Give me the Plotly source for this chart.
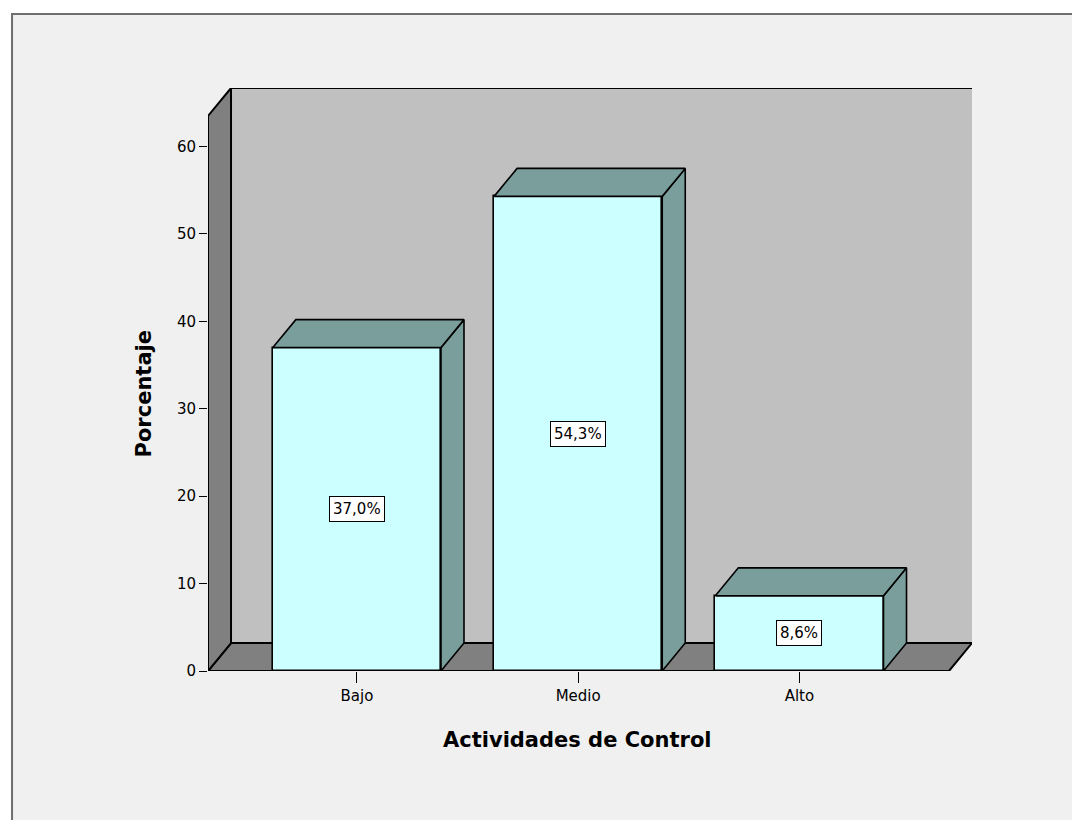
import plotly.graph_objects as go

# Data
categories = ["Bajo", "Medio", "Alto"]
percentages = [37.0, 54.3, 8.6]
value_labels = ["37,0%", "54,3%", "8,6%"]
y_ticks = [0, 10, 20, 30, 40, 50, 60]

# Geometry of the pseudo-3D frame (data units)
BAR_W = 0.76
DX, DY = 0.104, 3.2          # depth offset of the back plane
X_LO, X_HI = -0.673, 2.676   # front floor edge
Y_WALL = 63.5                # front top of the left side wall

FRONT = "#ccffff"
SHADE = "#7a9e9c"
WALL = "#c0c0c0"
DARK = "#808080"
FONT = "DejaVu Sans, Verdana, sans-serif"

fig = go.Figure()

# Bar side and top faces
for i, v in enumerate(percentages):
    l, r = i - BAR_W / 2, i + BAR_W / 2
    fig.add_trace(go.Scatter(
        x=[r, r + DX, r + DX, r, r], y=[0, DY, v + DY, v, 0],
        mode="lines", fill="toself", fillcolor=SHADE,
        line=dict(color="black", width=1.6), hoverinfo="skip", showlegend=False))
    fig.add_trace(go.Scatter(
        x=[l, r, r + DX, l + DX, l], y=[v, v, v + DY, v + DY, v],
        mode="lines", fill="toself", fillcolor=SHADE,
        line=dict(color="black", width=1.6), hoverinfo="skip", showlegend=False))

# Bar front faces
fig.add_trace(go.Bar(
    x=list(range(len(categories))), y=percentages, width=BAR_W,
    marker=dict(color=FRONT, line=dict(color="black", width=1.6)),
    hoverinfo="skip", showlegend=False))


def poly(xs, ys):
    return "M " + " L ".join(f"{x},{y}" for x, y in zip(xs, ys)) + " Z"


shapes = [
    # outer frame
    dict(type="rect", xref="paper", yref="paper", x0=-0.2565, x1=1.3, y0=-0.4, y1=1.127,
         fillcolor="#f0f0f0", line=dict(color="#6e6e6e", width=2), layer="below"),
    # back wall
    dict(type="path", xref="x", yref="y", layer="below",
         path=poly([X_LO + DX, X_HI + DX, X_HI + DX, X_LO + DX],
                   [DY, DY, Y_WALL + DY, Y_WALL + DY]),
         fillcolor=WALL, line=dict(width=0)),
    dict(type="line", xref="x", yref="y", layer="below",
         x0=X_LO + DX, x1=X_HI + DX, y0=Y_WALL + DY, y1=Y_WALL + DY,
         line=dict(color="black", width=2)),
    # floor
    dict(type="path", xref="x", yref="y", layer="below",
         path=poly([X_LO, X_HI, X_HI + DX, X_LO + DX], [0, 0, DY, DY]),
         fillcolor=DARK, line=dict(color="black", width=2)),
    # left side wall
    dict(type="path", xref="x", yref="y", layer="below",
         path=poly([X_LO, X_LO, X_LO + DX, X_LO + DX], [0, Y_WALL, Y_WALL + DY, DY]),
         fillcolor=DARK, line=dict(color="black", width=2)),
]

annotations = [
    dict(x=i, y=v / 2, xref="x", yref="y", text=t, showarrow=False,
         font=dict(family=FONT, size=15, color="black"),
         bgcolor="white", bordercolor="black", borderwidth=1, borderpad=3)
    for i, (v, t) in enumerate(zip(percentages, value_labels))
]
annotations += [
    dict(x=0.484, y=-0.118, xref="paper", yref="paper", xanchor="center", yanchor="middle",
         text="<b>Actividades de Control</b>",
         showarrow=False, font=dict(family=FONT, size=21, color="black")),
    dict(x=-0.0825, y=0.476, xref="paper", yref="paper", xanchor="center", yanchor="middle",
         text="<b>Porcentaje</b>",
         textangle=-90, showarrow=False, font=dict(family=FONT, size=21, color="black")),
]

fig.update_layout(
    width=1072, height=820, autosize=False,
    margin=dict(l=208, r=100, t=88, b=149, pad=0),
    paper_bgcolor="white", plot_bgcolor="rgba(0,0,0,0)",
    shapes=shapes, annotations=annotations,
    xaxis=dict(range=[X_LO, X_HI + DX], tickmode="array",
               tickvals=list(range(len(categories))), ticktext=categories,
               ticks="outside", ticklen=11, tickcolor="black", tickwidth=1,
               showgrid=False, zeroline=False, showline=False,
               tickfont=dict(family=FONT, size=15, color="black"), fixedrange=True),
    yaxis=dict(range=[0, Y_WALL + DY], tickmode="array", tickvals=y_ticks,
               ticks="outside", ticklen=8, tickcolor="black", tickwidth=1,
               showgrid=False, zeroline=False, showline=False,
               tickfont=dict(family=FONT, size=15, color="black"), fixedrange=True),
    bargap=0,
)

fig.write_html("out.html", config={"displayModeBar": False})
